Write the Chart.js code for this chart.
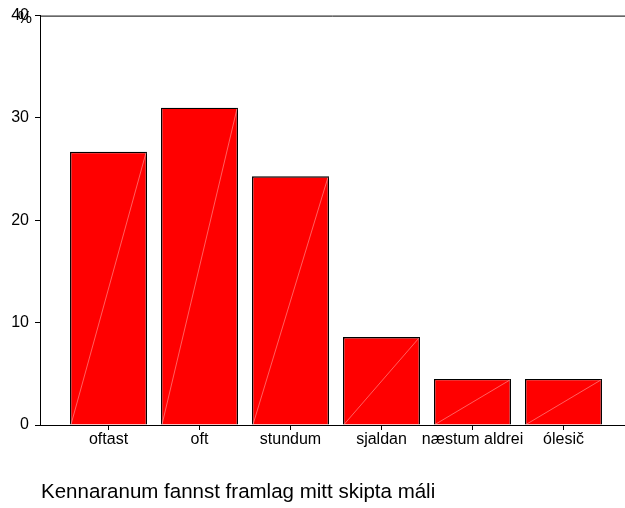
<!DOCTYPE html>
<html>
<head>
<meta charset="utf-8">
<script src="https://cdn.jsdelivr.net/npm/chart.js@4/dist/chart.umd.min.js"></script>
<style>
  body { margin: 0; background: #fff; }
  #wrap { position: relative; width: 625px; height: 508px; }
  #title { position: absolute; left: 41px; top: 479px; font: 20.5px "Liberation Sans", Arial, sans-serif; color: #000; white-space: nowrap; }
</style>
</head>
<body>
<div id="wrap">
  <canvas id="chart" width="625" height="508"></canvas>
  <div id="title">Kennaranum fannst framlag mitt skipta máli</div>
</div>
<script>
// values (percent)
const categories = ['oftast', 'oft', 'stundum', 'sjaldan', 'næstum aldrei', 'ólesič'];
const percents = [26.7, 31.0, 24.3, 8.6, 4.5, 4.5];
const yTicks = [0, 10, 20, 30, 40];

const font = { family: "'Liberation Sans', Arial, sans-serif", size: 16 };

// top frame line + "%" unit + the faint diagonals inside the bars
const extras = {
  id: 'extras',
  afterDatasetsDraw(chart) {
    const ctx = chart.ctx;
    const a = chart.chartArea;
    ctx.save();
    chart.getDatasetMeta(0).data.forEach(bar => {
      const p = bar.getProps(['x', 'y', 'base', 'width'], true);
      ctx.beginPath();
      ctx.strokeStyle = 'rgba(255,200,200,0.8)';
      ctx.lineWidth = 0.6;
      ctx.moveTo(p.x - p.width / 2 + 1, p.base);
      ctx.lineTo(p.x + p.width / 2 - 1, p.y + 1);
      ctx.stroke();
    });
    ctx.beginPath();
    ctx.strokeStyle = '#000';
    ctx.lineWidth = 1;
    ctx.moveTo(a.left, a.top + 0.5);
    ctx.lineTo(chart.width, a.top + 0.5);
    ctx.stroke();
    ctx.fillStyle = '#000';
    ctx.font = '16px ' + font.family;
    ctx.textAlign = 'right';
    ctx.textBaseline = 'middle';
    ctx.fillText('%', a.left - 8, chart.scales.y.getPixelForValue(40) + 3);
    ctx.restore();
  }
};

const ctx = document.getElementById('chart').getContext('2d');
new Chart(ctx, {
  type: 'bar',
  data: {
    datasets: [{
      data: percents.map((v, i) => ({ x: i, y: v })),
      backgroundColor: '#ff0000',
      borderColor: '#000',
      borderWidth: 1.4,
      borderSkipped: 'bottom',
      barPercentage: 0.846,
      categoryPercentage: 1
    }]
  },
  options: {
    responsive: false,
    animation: false,
    layout: { padding: { top: 14, right: 0, bottom: 53, left: 0 } },
    plugins: { legend: { display: false }, tooltip: { enabled: false } },
    scales: {
      x: {
        type: 'linear',
        offset: false,
        bounds: 'data',
        min: -0.753,
        max: 5.676,
        afterBuildTicks: s => { s.ticks = categories.map((c, i) => ({ value: i })); },
        afterFit: s => { s.height = 30; },
        ticks: { color: '#000', font: font, padding: 0, maxRotation: 0, autoSkip: false,
                 callback: v => categories[v] },
        grid: { offset: false, drawOnChartArea: false, color: '#000', tickLength: 5, tickWidth: 1 },
        border: { color: '#000', width: 1 }
      },
      y: {
        min: 0,
        max: 40,
        afterBuildTicks: s => { s.ticks = yTicks.map(v => ({ value: v })); },
        afterFit: s => { s.width = 40; },
        ticks: { color: '#000', font: font, padding: 6 },
        grid: { drawOnChartArea: false, color: '#000', tickLength: 5 },
        border: { color: '#000', width: 1 }
      }
    }
  },
  plugins: [extras]
});
</script>
</body>
</html>
